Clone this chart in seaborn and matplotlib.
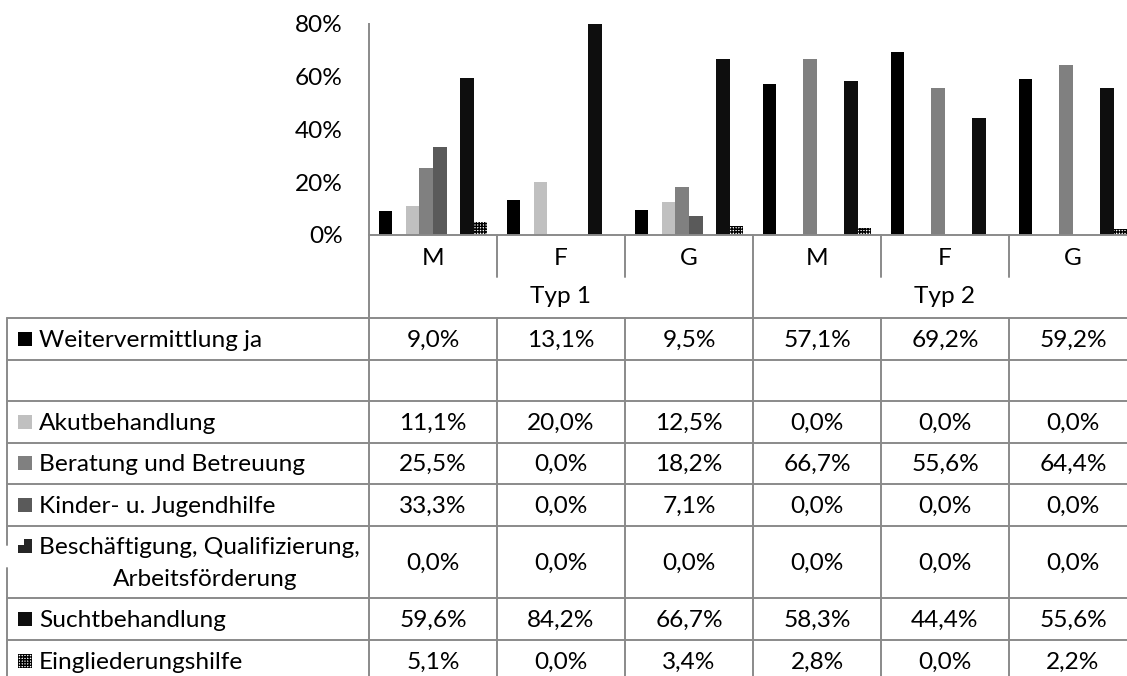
import numpy as np
import pandas as pd
import matplotlib
matplotlib.use("Agg")
import matplotlib.pyplot as plt
import seaborn as sns
from matplotlib.lines import Line2D
from matplotlib.patches import Rectangle, Polygon
from matplotlib.ticker import PercentFormatter

# ---- data -------------------------------------------------------------
typen = ["Typ 1", "Typ 2"]
geschlecht = ["M", "F", "G"]

reihen = [
    "Weitervermittlung ja",
    "",
    "Akutbehandlung",
    "Beratung und Betreuung",
    "Kinder- u. Jugendhilfe",
    "Beschäftigung, Qualifizierung,\nArbeitsförderung",
    "Suchtbehandlung",
    "Eingliederungshilfe",
]

weitervermittlung = [9.0, 13.1, 9.5, 57.1, 69.2, 59.2]
leer = [None, None, None, None, None, None]
akutbehandlung = [11.1, 20.0, 12.5, 0.0, 0.0, 0.0]
beratung = [25.5, 0.0, 18.2, 66.7, 55.6, 64.4]
kinder_jugend = [33.3, 0.0, 7.1, 0.0, 0.0, 0.0]
beschaeftigung = [0.0, 0.0, 0.0, 0.0, 0.0, 0.0]
suchtbehandlung = [59.6, 84.2, 66.7, 58.3, 44.4, 55.6]
eingliederung = [5.1, 0.0, 3.4, 2.8, 0.0, 2.2]

werte = [weitervermittlung, leer, akutbehandlung, beratung, kinder_jugend,
         beschaeftigung, suchtbehandlung, eingliederung]

farben = ["#000000", "#ffffff", "#c0c0c0", "#808080", "#5a5a5a",
          "#262626", "#0e0e0e", "#ffffff"]

yticks = [0, 20, 40, 60, 80]

# ---- long table for seaborn -------------------------------------------
spalten = [f"{t} {g}" for t in typen for g in geschlecht]
hue_keys = [f"s{i}" for i in range(len(reihen))]
rows = []
for key, vals in zip(hue_keys, werte):
    for sp, v in zip(spalten, vals):
        rows.append({"Spalte": sp, "Reihe": key,
                     "Anteil": 0.0 if v is None else v / 100.0})
df = pd.DataFrame(rows)

# ---- figure -------------------------------------------------------------
W, H = 1127, 676
fig = plt.figure(figsize=(W / 100, H / 100), dpi=100)
sns.set_style("white")
FONT = "Lato"
plt.rcParams["font.family"] = [FONT, "DejaVu Sans"]
FS = 17.6
LINE = "#8a8a8a"

def fx(x):
    return x / W

def fy(y):
    return 1 - y / H

x0, x1 = 369, 369 + 6 * 128
y_top, y_base = 24, 235
ax = fig.add_axes([fx(x0), fy(y_base), (x1 - x0) / W, (y_base - y_top) / H])

sns.barplot(data=df, x="Spalte", y="Anteil", hue="Reihe",
            order=spalten, hue_order=hue_keys,
            palette=dict(zip(hue_keys, farben)),
            width=0.845, gap=0, linewidth=0, saturation=1,
            errorbar=None, legend=False, ax=ax)

# checkerboard fill for the last series
for patch in ax.containers[-1]:
    patch.set_facecolor("white")
    patch.set_edgecolor("black")
    patch.set_hatch("++++++")
    patch.set_linewidth(0)

ax.set_xlim(-0.5, 5.5)
ax.set_ylim(0, 0.8)
ax.set_yticks([t / 100 for t in yticks])
ax.yaxis.set_major_formatter(PercentFormatter(1.0, decimals=0))
ax.set_xticks([])
ax.set_xlabel("")
ax.set_ylabel("")
for s in ["top", "right"]:
    ax.spines[s].set_visible(False)
for s in ["left", "bottom"]:
    ax.spines[s].set_color(LINE)
    ax.spines[s].set_linewidth(1.4)
ax.tick_params(axis="y", direction="out", length=6, width=1.4, color=LINE,
               pad=13, labelsize=FS, labelcolor="black")
for lab in ax.get_yticklabels():
    lab.set_fontfamily([FONT, "DejaVu Sans"])

# ---- data table ---------------------------------------------------------
def hline(xa, xb, y):
    fig.add_artist(Line2D([fx(xa), fx(xb)], [fy(y), fy(y)], color=LINE,
                          lw=1.4, transform=fig.transFigure))

def vline(x, ya, yb):
    fig.add_artist(Line2D([fx(x), fx(x)], [fy(ya), fy(yb)], color=LINE,
                          lw=1.4, transform=fig.transFigure))

def text(x, y, s, ha="center"):
    fig.text(fx(x), fy(y), s, ha=ha, va="baseline", fontsize=FS,
             family=[FONT, "DejaVu Sans"], color="black")

col_edges = [x0 + 128 * i for i in range(7)]
col_mid = [(a + b) / 2 for a, b in zip(col_edges[:-1], col_edges[1:])]

# header rows: categories and types
for i, g in enumerate(geschlecht * 2):
    text(col_mid[i], 265, g)
for i in [0, 3, 6]:
    vline(col_edges[i], y_base, 318)
for i in [1, 2, 4, 5]:
    vline(col_edges[i], y_base, 277)
for k, t in enumerate(typen):
    text((col_edges[3 * k] + col_edges[3 * k + 3]) / 2, 303, t)

# body rows
row_edges = [318, 359.5, 401, 442.5, 484, 525.5, 598, 640, 682]
for y in row_edges:
    hline(7, x1, y)
for x in col_edges:
    vline(x, 318, 682)
vline(7, 318, 545)
vline(7, 568, 682)

for r, (name, vals, col) in enumerate(zip(reihen, werte, farben)):
    ya, yb = row_edges[r], row_edges[r + 1]
    mid = (ya + yb) / 2
    if name == "":
        continue
    if "\n" in name:
        l1, l2 = name.split("\n")
        text(39, mid - 16 + 8, l1, ha="left")
        text(205, mid + 16 + 8, l2, ha="center")
        key_y = mid - 16
    else:
        text(39, mid + 8, name, ha="left")
        key_y = mid
    kx, ks = 18, 14
    if r == 5:
        pts = [(kx + 6, key_y - ks / 2), (kx + ks, key_y - ks / 2),
               (kx + ks, key_y + ks / 2), (kx, key_y + ks / 2),
               (kx, key_y - ks / 2 + 6), (kx + 6, key_y - ks / 2 + 6)]
        fig.add_artist(Polygon([(fx(a), fy(b)) for a, b in pts], closed=True,
                               facecolor=col, edgecolor="none",
                               transform=fig.transFigure))
    elif r == 7:
        fig.add_artist(Rectangle((fx(kx), fy(key_y + ks / 2)), ks / W, ks / H,
                                 facecolor="white", edgecolor="black",
                                 hatch="++++++", linewidth=0,
                                 transform=fig.transFigure))
    else:
        fig.add_artist(Rectangle((fx(kx), fy(key_y + ks / 2)), ks / W, ks / H,
                                 facecolor=col, edgecolor="none",
                                 transform=fig.transFigure))
    for i, v in enumerate(vals):
        text(col_mid[i], mid + 8, f"{v:.1f}%".replace(".", ","))

fig.savefig("out.png", dpi=100)
